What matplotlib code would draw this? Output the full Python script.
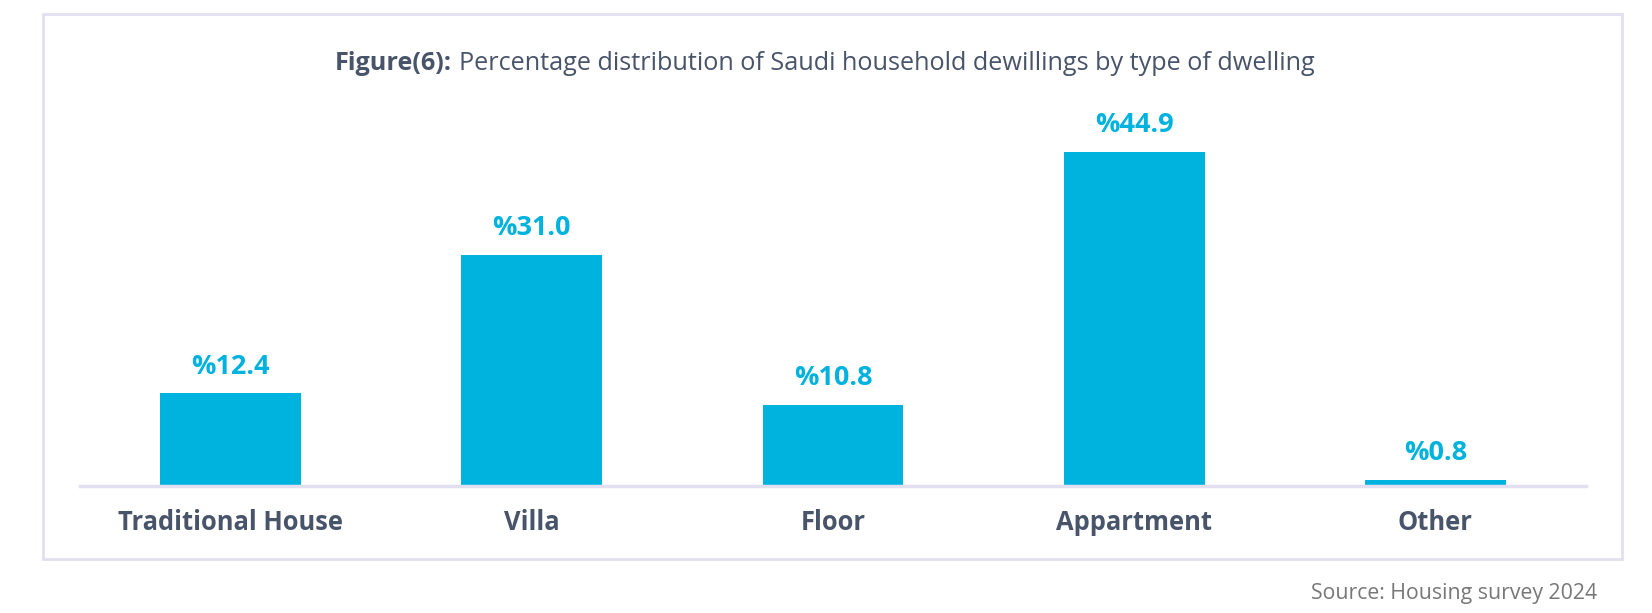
import matplotlib
matplotlib.use("Agg")
import matplotlib.pyplot as plt
from matplotlib.patches import Rectangle

categories = ["Traditional House", "Villa", "Floor", "Appartment", "Other"]
values = [12.4, 31.0, 10.8, 44.9, 0.8]
value_labels = ["%12.4", "%31.0", "%10.8", "%44.9", "%0.8"]

W, H = 1652, 613
fig = plt.figure(figsize=(W / 100, H / 100), dpi=100)
plt.rcParams['font.family'] = ['Open Sans', 'DejaVu Sans']

BAR = "#00b2de"
TXT = "#48546a"
BOX = "#e2e0f0"

# frame box
fig.patches.append(Rectangle((43 / W, 1 - 559 / H), (1622 - 43) / W, (559 - 14) / H,
                             transform=fig.transFigure, fill=False, edgecolor=BOX, linewidth=2))

ppu = 7.44
ax_left, ax_right = 80, 1586
base_y = 485.7
ymax = 50
ax = fig.add_axes([ax_left / W, (H - base_y) / H, (ax_right - ax_left) / W, ymax * ppu / H])
x = list(range(len(categories)))
ax.bar(x, values, width=0.468, color=BAR)
ax.set_xlim(-0.5, 4.5)
ax.set_ylim(0, ymax)
for s in ["top", "right", "left"]:
    ax.spines[s].set_visible(False)
ax.spines["bottom"].set_color(BOX)
ax.spines["bottom"].set_linewidth(2.5)
ax.set_yticks([])
ax.set_xticks(x)
ax.set_xticklabels(categories, fontsize=18.4, fontweight="bold", color=TXT)
ax.tick_params(axis="x", length=0, pad=17)
for xi, v, lab in zip(x, values, value_labels):
    ax.annotate(lab, (xi, v), xytext=(0, 10), textcoords="offset points",
                ha="center", va="bottom", fontsize=19.5, fontweight="bold", color=BAR)

t1 = fig.text(335 / W, 1 - 63 / H, "Figure(6):", fontsize=18.2, fontweight="bold", color=TXT,
              ha="left", va="center")
fig.canvas.draw()
bb = t1.get_window_extent()
fig.text(bb.x1 / W + 7 / W, 1 - 63 / H, "Percentage distribution of Saudi household dewillings by type of dwelling",
         fontsize=18.2, color=TXT, ha="left", va="center")

fig.text(1597 / W, 1 - 593 / H, "Source: Housing survey 2024", fontsize=15.3, color="#777777",
         ha="right", va="center")

fig.savefig("out.png", dpi=100, facecolor="white")
